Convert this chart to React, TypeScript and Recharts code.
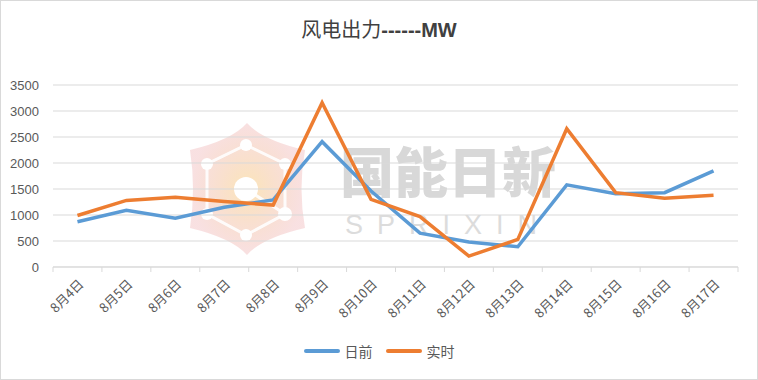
import React from 'react';
import { LineChart, Line, XAxis, YAxis, CartesianGrid, Legend } from 'recharts';

// 날짜 카테고리와 두 시리즈 값
const categories = ['8月4日', '8月5日', '8月6日', '8月7日', '8月8日', '8月9日', '8月10日', '8月11日', '8月12日', '8月13日', '8月14日', '8月15日', '8月16日', '8月17日'];
const dayAhead = [870, 1090, 940, 1150, 1290, 2410, 1460, 650, 480, 390, 1580, 1410, 1430, 1850];
const realTime = [990, 1280, 1340, 1260, 1190, 3160, 1300, 970, 210, 530, 2660, 1430, 1320, 1380];
const yTicks = [0, 500, 1000, 1500, 2000, 2500, 3000, 3500];

const data = categories.map((name, i) => ({ name, 日前: dayAhead[i], 实时: realTime[i] }));

const W = 758;
const H = 380;
const BAND = (738 - 53) / categories.length;
const FONT = '"Noto Sans CJK SC", "Liberation Sans", sans-serif';

// x축 라벨: -45도 회전 + 카테고리 경계에 눈금선
const XTick = ({ x, y, payload, index }: any) => (
  <g>
    <line x1={x - BAND / 2} y1={y} x2={x - BAND / 2} y2={y + 5} stroke="#d9d9d9" />
    {index === categories.length - 1 && (
      <line x1={x + BAND / 2} y1={y} x2={x + BAND / 2} y2={y + 5} stroke="#d9d9d9" />
    )}
    <text
      x={x + 7}
      y={y + 18}
      textAnchor="end"
      fill="#595959"
      fontSize={13}
      fontFamily={FONT}
      transform={`rotate(-45 ${x + 7} ${y + 18})`}
    >
      {payload.value}
    </text>
  </g>
);

const LegendContent = () => (
  <div style={{ display: 'flex', justifyContent: 'center', alignItems: 'center', fontFamily: FONT, fontSize: 14, color: '#595959' }}>
    <span style={{ display: 'inline-block', width: 36, height: 4, background: '#5B9BD5', borderRadius: 2, marginRight: 5 }} />
    <span style={{ marginRight: 13 }}>日前</span>
    <span style={{ display: 'inline-block', width: 36, height: 4, background: '#ED7D31', borderRadius: 2, marginRight: 5 }} />
    <span>实时</span>
  </div>
);

// 배경 워터마크 (로고 + 글자)
const Watermark = () => (
  <svg width={W} height={H} style={{ position: 'absolute', left: 0, top: 0 }}>
    <defs>
      <radialGradient id="glow" cx="50%" cy="50%" r="50%">
        <stop offset="0%" stopColor="#fbe3b0" stopOpacity={0.9} />
        <stop offset="100%" stopColor="#f2c2c4" stopOpacity={0.5} />
      </radialGradient>
    </defs>
    <path
      d="M247,123 Q262,140 305,150 Q298,189 305,228 Q262,238 247,255 Q232,238 190,228 Q196,189 190,150 Q232,140 247,123 Z"
      fill="url(#glow)"
    />
    <g stroke="#fff" strokeWidth={3} fill="none" opacity={0.9}>
      <polygon points="246,145 285,164 285,214 246,235 207,214 207,164" />
      <line x1={246} y1={189} x2={285} y2={214} />
    </g>
    <g fill="#fff">
      <circle cx={246} cy={145} r={6} />
      <circle cx={285} cy={164} r={6} />
      <circle cx={207} cy={164} r={6} />
      <circle cx={285} cy={214} r={7} />
      <circle cx={207} cy={214} r={6} />
      <circle cx={246} cy={235} r={6} />
      <circle cx={246} cy={189} r={12} />
    </g>
    <text x={340} y={193} fontFamily={FONT} fontWeight={900} fontSize={54} fill="#d8d8d8">国能日新</text>
    <text x={345} y={234} fontFamily='"Liberation Sans", sans-serif' fontSize={27} fill="#dcdcdc" letterSpacing={14}>SPRIXIN</text>
  </svg>
);

export default function App() {
  return (
    <div style={{ position: 'absolute', left: 0, top: 0, width: W, height: H, background: '#fff' }}>
      <Watermark />
      <div style={{ position: 'absolute', left: 0, top: 0, width: W - 2, height: H - 2, border: '1px solid #d9d9d9' }} />
      <div style={{ position: 'absolute', left: 0, top: 14, width: W, textAlign: 'center', fontFamily: FONT, fontSize: 20, color: '#404040' }}>
        风电出力<span style={{ fontWeight: 700, fontFamily: '"Liberation Sans", sans-serif' }}>------MW</span>
      </div>
      <div style={{ position: 'absolute', left: 0, top: 0 }}>
        <LineChart width={W} height={H} data={data} margin={{ top: 85, right: 20, left: 0, bottom: 0 }}>
          <CartesianGrid vertical={false} stroke="#d9d9d9" />
          <XAxis
            dataKey="name"
            height={113}
            interval={0}
            padding={{ left: BAND / 2, right: BAND / 2 }}
            axisLine={{ stroke: '#d9d9d9' }}
            tickLine={false}
            tickSize={0}
            tickMargin={0}
            tick={<XTick />}
          />
          <YAxis
            width={53}
            domain={[0, 3500]}
            ticks={yTicks}
            axisLine={false}
            tickLine={false}
            tickMargin={8}
            tick={{ fill: '#595959', fontSize: 13, fontFamily: '"Liberation Sans", sans-serif' }}
          />
          <Legend
            verticalAlign="middle"
            align="center"
            content={<LegendContent />}
            wrapperStyle={{ position: 'absolute', top: 341, left: 0, width: W }}
          />
          <Line type="linear" dataKey="日前" stroke="#5B9BD5" strokeWidth={3.5} dot={false} isAnimationActive={false} />
          <Line type="linear" dataKey="实时" stroke="#ED7D31" strokeWidth={3.5} dot={false} isAnimationActive={false} />
        </LineChart>
      </div>
    </div>
  );
}
